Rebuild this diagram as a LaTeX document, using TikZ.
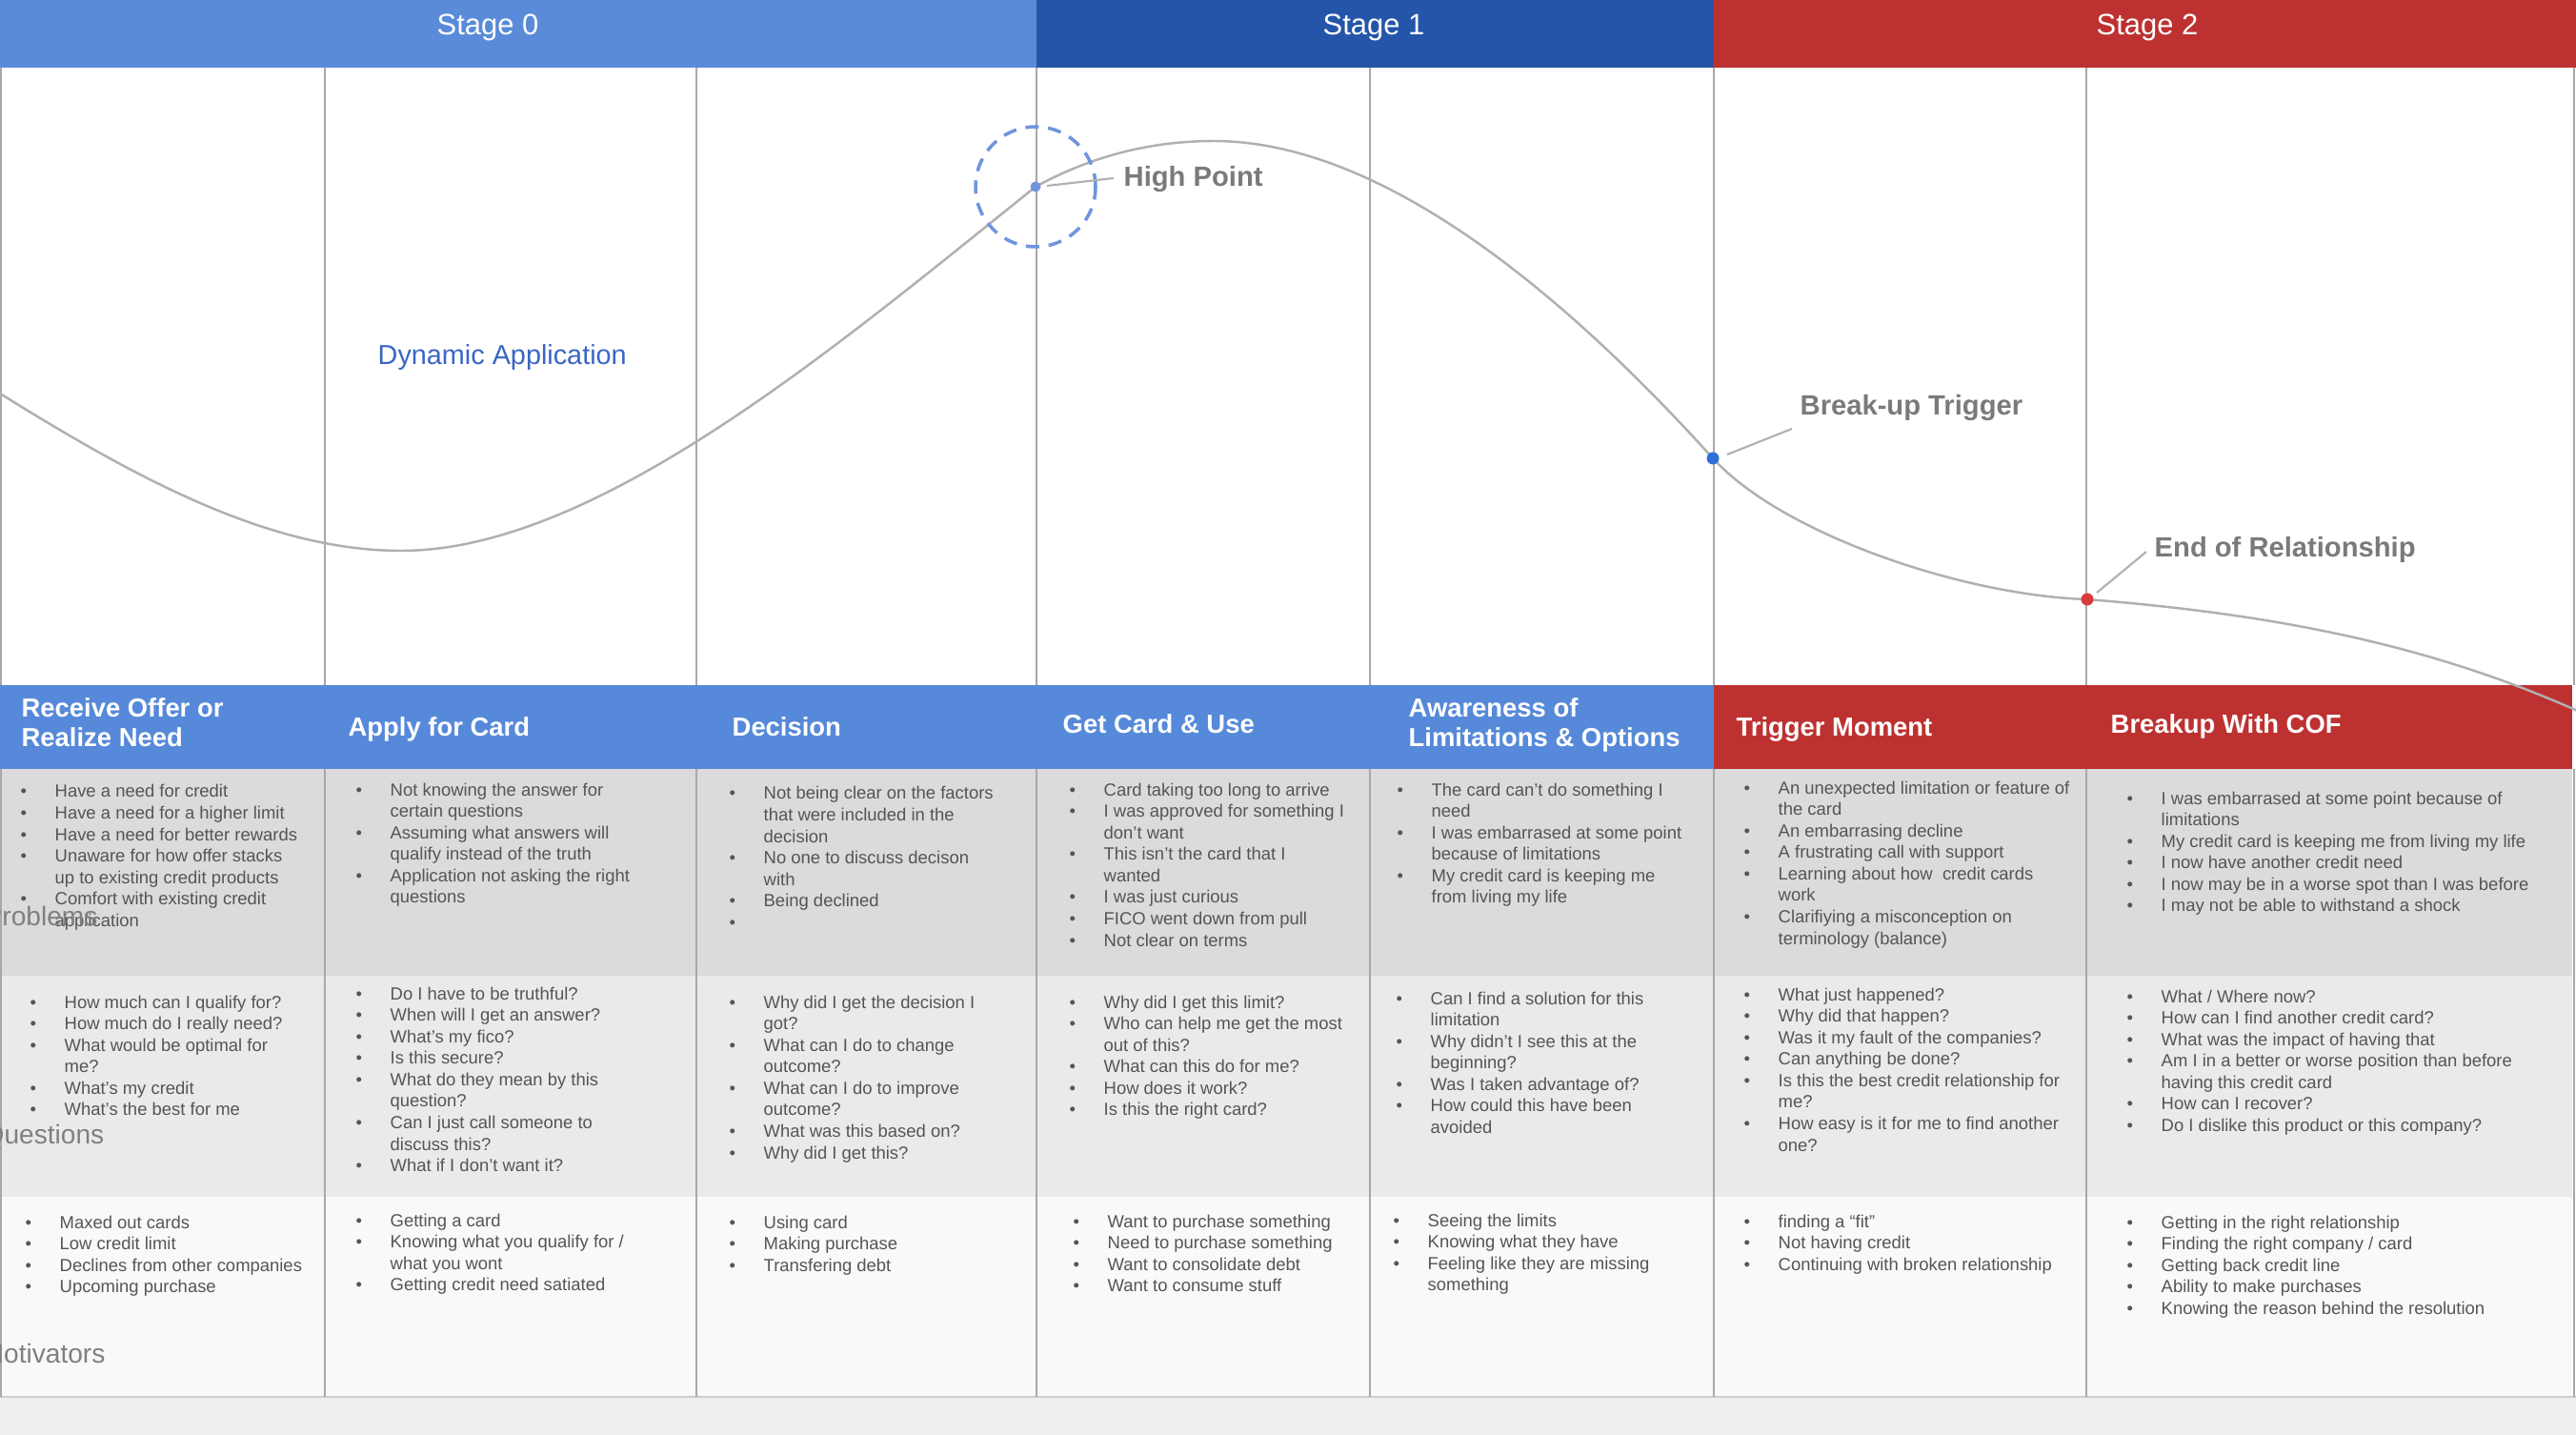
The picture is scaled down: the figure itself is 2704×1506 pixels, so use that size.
\documentclass[tikz,border=0pt]{standalone}
\usepackage{fontspec}
\setmainfont{Liberation Sans}
\definecolor{stageA}{HTML}{5A8BD8}
\definecolor{stageB}{HTML}{2455A9}
\definecolor{stageC}{HTML}{BD3131}
\definecolor{hdrblue}{HTML}{5689D9}
\definecolor{hdrred}{HTML}{BE3131}
\definecolor{rowA}{HTML}{DCDADA}
\definecolor{rowB}{HTML}{EBEAE8}
\definecolor{rowC}{HTML}{F9F9F8}
\definecolor{stripgray}{HTML}{EEEEEE}
\definecolor{gridgray}{HTML}{A8A8A8}
\definecolor{curvegray}{HTML}{B0B0B0}
\definecolor{labelgray}{HTML}{7A7A7A}
\definecolor{bodygray}{HTML}{555555}
\definecolor{sidegray}{HTML}{808080}
\definecolor{dynblue}{HTML}{3A66C4}
\definecolor{dotblue}{HTML}{2F6FD8}
\definecolor{hpblue}{HTML}{6F95DE}
\definecolor{dotred}{HTML}{D83A3A}
\newcommand\bu{\textbullet}
\newcommand\cellfont{\fontsize{5.25}{6.43}\selectfont}
\newcommand\hdrfont{\fontsize{7.8}{8.54}\selectfont\bfseries}
\newenvironment{celltab}{\begin{tabular}[t]{@{}p{3.6mm}@{}l@{}}}{\end{tabular}}
\newenvironment{hdrtab}{\begin{tabular}[t]{@{}l@{}}}{\end{tabular}}
\begin{document}
\begin{tikzpicture}[x=0.1mm,y=-0.1mm,
  cell/.style={anchor=base west, inner sep=0pt, text=bodygray, font=\cellfont},
  hdr/.style={anchor=base west, inner sep=0pt, text=white, font=\hdrfont},
  stagelbl/.style={anchor=base, inner sep=0pt, text=white, font=\fontsize{8.8}{10}\selectfont},
  pointlbl/.style={anchor=base west, inner sep=0pt, text=labelgray, font=\fontsize{8.3}{10}\selectfont\bfseries},
  sidelbl/.style={anchor=base west, inner sep=0pt, text=sidegray, font=\fontsize{8}{10}\selectfont},
  gridline/.style={draw=gridgray, line width=0.45pt},
  journey/.style={draw=curvegray, line width=0.7pt},
  leader/.style={draw=curvegray, line width=0.6pt},
  dotnode/.style={circle, inner sep=0pt, minimum size=1.3mm},
]
\useasboundingbox (0,0) rectangle (2704,1506);
\clip (0,0) rectangle (2704,1506);
\fill[white] (0,0) rectangle (2704,1506);
% stage bands
\fill[stageA] (0,0) rectangle (1088,71);
\fill[stageB] (1088,0) rectangle (1799,71);
\fill[stageC] (1799,0) rectangle (2704,71);
% header row and body rows
\fill[hdrblue] (0,719) rectangle (1799,807);
\fill[hdrred] (1799,719) rectangle (2700,807);
\fill[rowA] (0,807) rectangle (2700,1024);
\fill[rowB] (0,1024) rectangle (2700,1256);
\fill[rowC] (0,1256) rectangle (2700,1466);
\fill[stripgray] (0,1466) rectangle (2704,1506);
\draw[draw=gray!40, line width=0.4pt] (0,1466) -- (2704,1466);
% grid lines
\foreach \gx in {1,341,731,1088,1438,1799,2190,2702}{
  \draw[gridline] (\gx,71) -- (\gx,719);
  \draw[gridline] (\gx,807) -- (\gx,1466);
}
% journey curve
\coordinate (cs) at (0,413);
\coordinate (cmin) at (421,578);
\coordinate (cpk) at (1274,148);
\coordinate (cend) at (2710,748);
\draw[journey] (cs) .. controls (140,500) and (281,578) .. (cmin)
  .. controls (625,578) and (875,366) .. (1087,196)
  .. controls (1149,162) and (1212,148) .. (cpk)
  .. controls (1449,148) and (1640,306) .. (1798,481)
  .. controls (1870,560) and (2060,625) .. (2191,629)
  .. controls (2364,643) and (2537,670) .. (cend);
\draw[hpblue, line width=1pt, dash pattern=on 4pt off 2.8pt] (1087,196) circle[radius=6.3mm];
% points
\node[dotnode, fill=hpblue, minimum size=1.1mm] (hp) at (1087,196) {};
\node[dotnode, fill=dotblue] (bt) at (1798,481) {};
\node[dotnode, fill=dotred] (er) at (2191,629) {};
\node[pointlbl] (hpl) at (1179,196) {High Point};
\node[pointlbl] (btl) at (1889,436) {Break-up Trigger};
\node[pointlbl] (erl) at (2261,585) {End of Relationship};
\coordinate (hpa) at (1099,195); \coordinate (hpb) at (1169,187);
\coordinate (bta) at (1813,477); \coordinate (btb) at (1881,450);
\coordinate (era) at (2201,622); \coordinate (erb) at (2253,579);
\draw[leader] (hpa) -- (hpb);
\draw[leader] (bta) -- (btb);
\draw[leader] (era) -- (erb);
\node[anchor=base west, inner sep=0pt, text=dynblue, font=\fontsize{8.2}{10}\selectfont] (dyn) at (396,383) {Dynamic Application};
% stage labels
\node[stagelbl] (s0) at (512,37) {Stage 0};
\node[stagelbl] (s1) at (1442,37) {Stage 1};
\node[stagelbl] (s2) at (2254,37) {Stage 2};
% column headers
\node[hdr] (h1) at (22,753) {\begin{hdrtab}Receive Offer or\\Realize Need\end{hdrtab}};
\node[hdr] (h2) at (365,773) {Apply for Card};
\node[hdr] (h3) at (768,773) {Decision};
\node[hdr] (h4) at (1115,770) {Get Card \& Use};
\node[hdr] (h5) at (1478,753) {\begin{hdrtab}Awareness of\\Limitations \& Options\end{hdrtab}};
\node[hdr] (h6) at (1822,773) {Trigger Moment};
\node[hdr] (h7) at (2215,770) {Breakup With COF};
% column 1
\node[cell] (c11) at (21,837) {\begin{celltab}
\bu & Have a need for credit\\
\bu & Have a need for a higher limit\\
\bu & Have a need for better rewards\\
\bu & Unaware for how offer stacks\\
 & up to existing credit products\\
\bu & Comfort with existing credit\\
 & application\end{celltab}};
\node[cell] (c12) at (31,1058) {\begin{celltab}
\bu & How much can I qualify for?\\
\bu & How much do I really need?\\
\bu & What would be optimal for\\
 & me?\\
\bu & What's my credit\\
\bu & What's the best for me\end{celltab}};
\node[cell] (c13) at (26,1289) {\begin{celltab}
\bu & Maxed out cards\\
\bu & Low credit limit\\
\bu & Declines from other companies\\
\bu & Upcoming purchase\end{celltab}};
% column 2
\node[cell] (c21) at (373,835) {\begin{celltab}
\bu & Not knowing the answer for\\
 & certain questions\\
\bu & Assuming what answers will\\
 & qualify instead of the truth\\
\bu & Application not asking the right\\
 & questions\end{celltab}};
\node[cell] (c22) at (373,1049) {\begin{celltab}
\bu & Do I have to be truthful?\\
\bu & When will I get an answer?\\
\bu & What's my fico?\\
\bu & Is this secure?\\
\bu & What do they mean by this\\
 & question?\\
\bu & Can I just call someone to\\
 & discuss this?\\
\bu & What if I don't want it?\end{celltab}};
\node[cell] (c23) at (373,1287) {\begin{celltab}
\bu & Getting a card\\
\bu & Knowing what you qualify for /\\
 & what you wont\\
\bu & Getting credit need satiated\end{celltab}};
% column 3
\node[cell] (c31) at (765,839) {\begin{celltab}
\bu & Not being clear on the factors\\
 & that were included in the\\
 & decision\\
\bu & No one to discuss decison\\
 & with\\
\bu & Being declined\\
\bu & \end{celltab}};
\node[cell] (c32) at (765,1058) {\begin{celltab}
\bu & Why did I get the decision I\\
 & got?\\
\bu & What can I do to change\\
 & outcome?\\
\bu & What can I do to improve\\
 & outcome?\\
\bu & What was this based on?\\
\bu & Why did I get this?\end{celltab}};
\node[cell] (c33) at (765,1289) {\begin{celltab}
\bu & Using card\\
\bu & Making purchase\\
\bu & Transfering debt\end{celltab}};
% column 4
\node[cell] (c41) at (1122,835) {\begin{celltab}
\bu & Card taking too long to arrive\\
\bu & I was approved for something I\\
 & don't want\\
\bu & This isn't the card that I\\
 & wanted\\
\bu & I was just curious\\
\bu & FICO went down from pull\\
\bu & Not clear on terms\end{celltab}};
\node[cell] (c42) at (1122,1058) {\begin{celltab}
\bu & Why did I get this limit?\\
\bu & Who can help me get the most\\
 & out of this?\\
\bu & What can this do for me?\\
\bu & How does it work?\\
\bu & Is this the right card?\end{celltab}};
\node[cell] (c43) at (1126,1288) {\begin{celltab}
\bu & Want to purchase something\\
\bu & Need to purchase something\\
\bu & Want to consolidate debt\\
\bu & Want to consume stuff\end{celltab}};
% column 5
\node[cell] (c51) at (1466,835) {\begin{celltab}
\bu & The card can't do something I\\
 & need\\
\bu & I was embarrased at some point\\
 & because of limitations\\
\bu & My credit card is keeping me\\
 & from living my life\end{celltab}};
\node[cell] (c52) at (1465,1054) {\begin{celltab}
\bu & Can I find a solution for this\\
 & limitation\\
\bu & Why didn't I see this at the\\
 & beginning?\\
\bu & Was I taken advantage of?\\
\bu & How could this have been\\
 & avoided\end{celltab}};
\node[cell] (c53) at (1462,1287) {\begin{celltab}
\bu & Seeing the limits\\
\bu & Knowing what they have\\
\bu & Feeling like they are missing\\
 & something\end{celltab}};
% column 6
\node[cell] (c61) at (1830,833) {\begin{celltab}
\bu & An unexpected limitation or feature of\\
 & the card\\
\bu & An embarrasing decline\\
\bu & A frustrating call with support\\
\bu & Learning about how\ \ credit cards\\
 & work\\
\bu & Clarifiying a misconception on\\
 & terminology (balance)\end{celltab}};
\node[cell] (c62) at (1830,1050) {\begin{celltab}
\bu & What just happened?\\
\bu & Why did that happen?\\
\bu & Was it my fault of the companies?\\
\bu & Can anything be done?\\
\bu & Is this the best credit relationship for\\
 & me?\\
\bu & How easy is it for me to find another\\
 & one?\end{celltab}};
\node[cell] (c63) at (1830,1288) {\begin{celltab}
\bu & finding a “fit”\\
\bu & Not having credit\\
\bu & Continuing with broken relationship\end{celltab}};
% column 7
\node[cell] (c71) at (2232,844) {\begin{celltab}
\bu & I was embarrased at some point because of\\
 & limitations\\
\bu & My credit card is keeping me from living my life\\
\bu & I now have another credit need\\
\bu & I now may be in a worse spot than I was before\\
\bu & I may not be able to withstand a shock\end{celltab}};
\node[cell] (c72) at (2232,1052) {\begin{celltab}
\bu & What / Where now?\\
\bu & How can I find another credit card?\\
\bu & What was the impact of having that\\
\bu & Am I in a better or worse position than before\\
 & having this credit card\\
\bu & How can I recover?\\
\bu & Do I dislike this product or this company?\end{celltab}};
\node[cell] (c73) at (2232,1289) {\begin{celltab}
\bu & Getting in the right relationship\\
\bu & Finding the right company / card\\
\bu & Getting back credit line\\
\bu & Ability to make purchases\\
\bu & Knowing the reason behind the resolution\end{celltab}};
% row labels (cut off at the left edge)
\node[sidelbl] (lp) at (-17,971) {Problems};
\node[sidelbl] (lq) at (-18,1200) {Questions};
\node[sidelbl] (lm) at (-20,1430) {Motivators};
\end{tikzpicture}
\end{document}
